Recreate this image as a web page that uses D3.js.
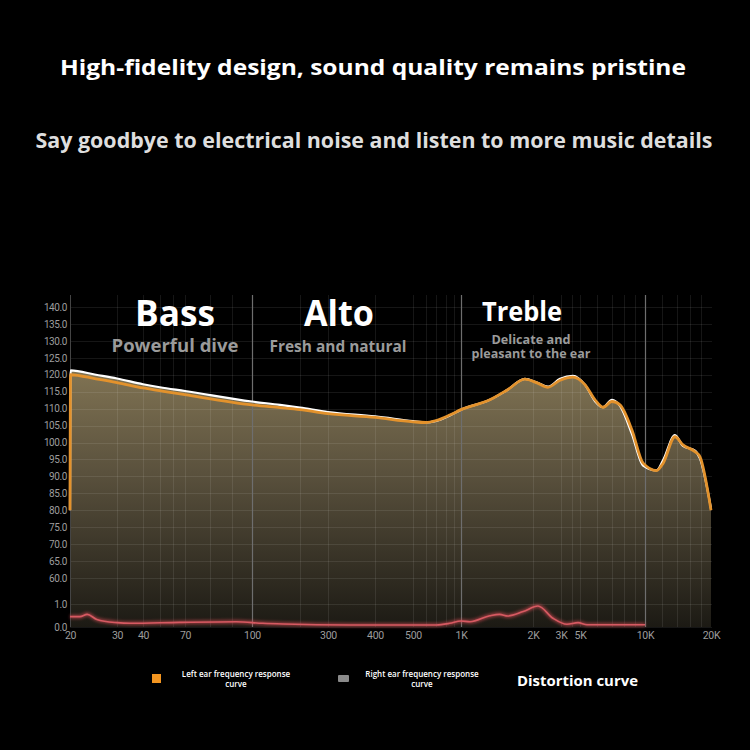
<!DOCTYPE html>
<html><head><meta charset="utf-8">
<script src="https://cdn.jsdelivr.net/npm/d3@7"></script>
<style>body{margin:0;background:#000}svg{display:block}</style>
</head><body><svg id="c" width="750" height="750"></svg>
<script>
// ---- data ----
const freqs     = [20, 20.1, 25, 30, 40, 50, 70, 100, 150, 200, 300, 400, 500, 600, 700, 850, 1000, 1320, 1560, 1850, 2120, 2480, 2960, 4140, 5280, 5870, 6390, 7030, 7660, 8700, 9800, 11300, 12100, 13700, 14900, 16900, 17800, 20000];
const leftEar   = [80, 120.0, 118.8, 117.7, 116.1, 115.3, 114.1, 111.1, 110.3, 109.7, 108.5, 107.4, 106.1, 105.9, 106.5, 108.1, 109.7, 112.6, 115.5, 118.7, 117.6, 116.3, 118.4, 119.3, 117.0, 112.6, 110.4, 112.1, 111.1, 103.7, 93.9, 91.7, 93.9, 101.7, 99.3, 97.3, 95.8, 80.0];
const rightEar  = [80, 121.3, 120.0, 118.9, 117.2, 116.3, 115.2, 112.1, 111.1, 110.3, 109.0, 107.7, 106.3, 105.9, 106.4, 108.0, 109.7, 112.6, 115.5, 118.8, 117.7, 116.5, 118.8, 119.7, 117.0, 112.2, 110.4, 112.6, 110.8, 102.5, 93.2, 91.8, 94.8, 102.2, 99.0, 97.6, 95.3, 80.5];
const distFreqs = [20, 21.8, 23.2, 25.2, 30, 34.6, 65, 92, 117, 157, 343, 700, 850, 1000, 1090, 1320, 1450, 1570, 1820, 2150, 2670, 3520, 4740, 5390, 10000];
const distortion= [0.45, 0.45, 0.55, 0.33, 0.19, 0.16, 0.2, 0.23, 0.16, 0.13, 0.09, 0.09, 0.16, 0.26, 0.23, 0.49, 0.55, 0.48, 0.67, 0.91, 0.38, 0.12, 0.19, 0.1, 0.1];
const yTicks = [0, 1, 60, 65, 70, 75, 80, 85, 90, 95, 100, 105, 110, 115, 120, 125, 130, 135, 140];
const xTickValues = [20, 30, 40, 70, 100, 300, 400, 500, 1000, 2000, 3000, 5000, 10000, 20000];
const xTickLabels = ["20", "30", "40", "70", "100", "300", "400", "500", "1K", "2K", "3K", "5K", "10K", "20K"];
const gridFreqs = [30, 40, 50, 60, 70, 80, 90, 200, 300, 400, 500, 600, 700, 800, 900, 2000, 3000, 4000, 5000, 6000, 7000, 8000, 9000, 12000, 14000, 16000, 18000];
const dividers = [100, 1000, 10000];
const sectionNames = ["Bass", "Alto", "Treble"];
const sectionSubs = [["Powerful dive"], ["Fresh and natural"], ["Delicate and", "pleasant to the ear"]];
const title = "High-fidelity design, sound quality remains pristine";
const subtitle = "Say goodbye to electrical noise and listen to more music details";
const legendLabels = [["Left ear frequency response", "curve"], ["Right ear frequency response", "curve"]];
const distLabel = "Distortion curve";

// ---- scales ----
const x = d3.scaleLog().domain(xTickValues)
  .range([70, 117, 143, 185, 252, 328, 375, 413, 461, 533, 561, 580, 645, 711]);
const y = d3.scaleLinear().domain([0, 1, 60, 140]).range([627, 604, 578, 307]);

const svg = d3.select("#c");
svg.append("rect").attr("width", 750).attr("height", 750).attr("fill", "#000");
const defs = svg.append("defs");
const g = defs.append("linearGradient").attr("id", "fillG")
  .attr("gradientUnits", "userSpaceOnUse").attr("x1", 0).attr("y1", 370).attr("x2", 0).attr("y2", 627);
g.append("stop").attr("offset", "0%").attr("stop-color", "#807353");
g.append("stop").attr("offset", "40%").attr("stop-color", "#5a513d");
g.append("stop").attr("offset", "100%").attr("stop-color", "#1c1a14");
const blur = defs.append("filter").attr("id", "glow").attr("x", "-10%").attr("y", "-50%").attr("width", "120%").attr("height", "200%");
blur.append("feGaussianBlur").attr("stdDeviation", 1.5);

const font = "'Open Sans','Noto Sans',sans-serif";

// title texts
svg.append("text").attr("x", 373).attr("y", 75).attr("text-anchor", "middle")
  .attr("font-family", font).attr("font-weight", 700).attr("font-size", 22).attr("fill", "#fff")
  .attr("textLength", 626).attr("lengthAdjust", "spacingAndGlyphs").text(title);
svg.append("text").attr("x", 374).attr("y", 148).attr("text-anchor", "middle")
  .attr("font-family", font).attr("font-weight", 700).attr("font-size", 20.5).attr("fill", "#dedede")
  .attr("textLength", 677).attr("lengthAdjust", "spacingAndGlyphs").text(subtitle);

const L = freqs.map((f, i) => ({ f, v: leftEar[i] }));
const R = freqs.map((f, i) => ({ f, v: rightEar[i] }));
const D = distFreqs.map((f, i) => ({ f, v: distortion[i] }));

// fill area
const area = d3.area().x(d => x(d.f)).y0(y(0)).y1(d => y(d.v)).curve(d3.curveMonotoneX);
svg.append("path").datum(R).attr("d", area).attr("fill", "url(#fillG)");

// grid
const grid = svg.append("g").attr("stroke", "rgba(255,255,255,0.085)").attr("stroke-width", 1);
grid.selectAll("line.h").data(yTicks).join("line")
  .attr("x1", 70).attr("x2", 712).attr("y1", d => Math.round(y(d)) + 0.5).attr("y2", d => Math.round(y(d)) + 0.5);
grid.selectAll("line.v").data(gridFreqs).join("line")
  .attr("x1", d => Math.round(x(d)) + 0.5).attr("x2", d => Math.round(x(d)) + 0.5).attr("y1", 295).attr("y2", 627);
svg.append("g").selectAll("line").data(dividers).join("line")
  .attr("x1", d => Math.round(x(d)) + 0.5).attr("x2", d => Math.round(x(d)) + 0.5)
  .attr("y1", 295).attr("y2", 627).attr("stroke", "#6e6e6e").attr("stroke-width", 1.2);
svg.append("line").attr("x1", 70.5).attr("x2", 70.5).attr("y1", 295).attr("y2", 627)
  .attr("stroke", "#444").attr("stroke-width", 1);

// y axis
const yAxis = d3.axisLeft(y).tickValues(yTicks).tickFormat(d => d.toFixed(1)).tickSize(0).tickPadding(3);
const ya = svg.append("g").attr("transform", "translate(70,0)").call(yAxis);
ya.select(".domain").remove();
ya.selectAll("text").attr("fill", "#9d9d9d").attr("font-family", "'Liberation Sans Narrow','Roboto',sans-serif")
  .attr("font-size", 10).attr("letter-spacing", -0.4);

// x axis
const xAxis = d3.axisBottom(x).tickValues(xTickValues).tickFormat((d, i) => xTickLabels[i]).tickSize(0).tickPadding(5);
const xa = svg.append("g").attr("transform", "translate(0,627)").call(xAxis);
xa.select(".domain").remove();
xa.selectAll("text").attr("fill", "#9d9d9d").attr("font-family", "'Liberation Sans Narrow','Roboto',sans-serif")
  .attr("font-size", 10.5).attr("letter-spacing", -0.3);

// curves
const line = d3.line().x(d => x(d.f)).y(d => y(d.v)).curve(d3.curveMonotoneX);
svg.append("path").datum(R).attr("d", line).attr("fill", "none").attr("stroke", "#ffffff").attr("stroke-width", 2.2);
svg.append("path").datum(L).attr("d", line).attr("fill", "none").attr("stroke", "#e3922c").attr("stroke-width", 2.8);
svg.append("path").datum(D).attr("d", line).attr("fill", "none").attr("stroke", "rgba(230,80,90,0.55)")
  .attr("stroke-width", 4).attr("filter", "url(#glow)");
svg.append("path").datum(D).attr("d", line).attr("fill", "none").attr("stroke", "#d65a62").attr("stroke-width", 1.6);

// section labels
const secX = [175, 339, 522];
const secY = [326, 326, 321];
const secSize = [36, 36, 26];
const secW = [80, 70, 80];
sectionNames.forEach((n, i) => {
  svg.append("text").attr("x", secX[i]).attr("y", secY[i]).attr("text-anchor", "middle")
    .attr("font-family", font).attr("font-weight", 700).attr("font-size", secSize[i]).attr("fill", "#fff")
    .attr("textLength", secW[i]).attr("lengthAdjust", "spacingAndGlyphs").text(n);
});
const subX = [175, 338, 531];
const subY = [[352], [352], [344, 358]];
const subSize = [17, 15.5, 11.5];
const subW = [[127], [137], [79, 119]];
sectionSubs.forEach((lines, i) => {
  lines.forEach((t, j) => {
    svg.append("text").attr("x", subX[i]).attr("y", subY[i][j]).attr("text-anchor", "middle")
      .attr("font-family", font).attr("font-weight", 700).attr("font-size", subSize[i]).attr("fill", "#9b9b9b")
      .attr("textLength", subW[i][j]).attr("lengthAdjust", "spacingAndGlyphs").text(t);
  });
});

// legend
svg.append("rect").attr("x", 152).attr("y", 674).attr("width", 9).attr("height", 9).attr("fill", "#f39520");
svg.append("rect").attr("x", 338).attr("y", 675).attr("width", 11).attr("height", 7).attr("fill", "#8a8a8a").attr("rx", 1);
const legX = [236, 422];
legendLabels.forEach((lines, i) => {
  lines.forEach((t, j) => {
    svg.append("text").attr("x", legX[i]).attr("y", 677 + j * 9.5).attr("text-anchor", "middle")
      .attr("font-family", font).attr("font-weight", 600).attr("font-size", 8).attr("fill", "#fff").text(t);
  });
});
svg.append("text").attr("x", 517).attr("y", 686).attr("font-family", font).attr("font-weight", 700)
  .attr("font-size", 15).attr("fill", "#fff").attr("textLength", 121).attr("lengthAdjust", "spacingAndGlyphs").text(distLabel);
</script></body></html>
